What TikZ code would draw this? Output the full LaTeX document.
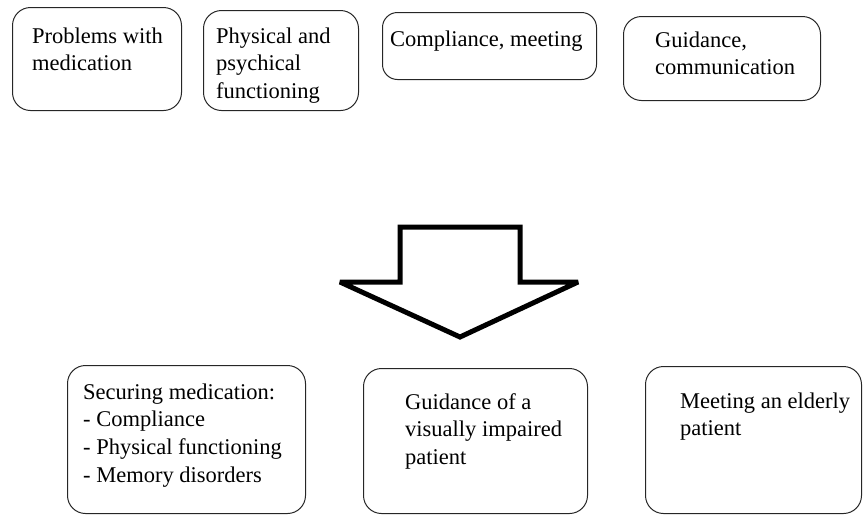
\documentclass[tikz,border=0pt]{standalone}
\usepackage{fontspec}
\setmainfont{Liberation Serif}
\newcommand{\boxlines}[1]{\begin{tabular}[t]{@{}l@{}}#1\end{tabular}}
\begin{document}
\begin{tikzpicture}[x=1pt,y=-1pt,
  pbox/.style={draw=black!85, line width=1pt, rounded corners=18pt, inner sep=0pt, anchor=north west},
  ptext/.style={anchor=base west, inner sep=0pt, font=\fontsize{22.5}{27.7}\selectfont, text=black},
  bigarrow/.style={draw=black, line width=5pt, fill=white, line join=miter, miter limit=1.5}]
\useasboundingbox (0,0) rectangle (863,515);
% top row
\node[pbox, minimum width=169pt, minimum height=103pt] (b1) at (12,7) {};
\node[pbox, minimum width=155pt, minimum height=100pt] (b2) at (203,10) {};
\node[pbox, minimum width=214pt, minimum height=67pt, rounded corners=15pt] (b3) at (382,12) {};
\node[pbox, minimum width=197pt, minimum height=84pt] (b4) at (623,16) {};
\node[ptext] (t1) at (32,43) {\boxlines{Problems with\\medication}};
\node[ptext] (t2) at (216,43) {\boxlines{Physical and\\psychical\\functioning}};
\node[ptext] (t3) at (390,46) {\boxlines{Compliance, meeting}};
\node[ptext] (t4) at (655,47) {\boxlines{Guidance,\\communication}};
% arrow
\draw[bigarrow] (400,282) -- (400,227) -- (520,227) -- (520,282) -- (578,282) -- (460,337) -- (340,282) -- cycle;
% bottom row
\node[pbox, minimum width=238pt, minimum height=148pt] (b5) at (67,365) {};
\node[pbox, minimum width=224pt, minimum height=145pt] (b6) at (363,368) {};
\node[pbox, minimum width=216pt, minimum height=147pt] (b7) at (645,366) {};
\node[ptext] (t5) at (83,399) {\boxlines{Securing medication:\\- Compliance\\- Physical functioning\\- Memory disorders}};
\node[ptext] (t6) at (405,409) {\boxlines{Guidance of a\\visually impaired\\patient}};
\node[ptext] (t7) at (680,408) {\boxlines{Meeting an elderly\\patient}};
\end{tikzpicture}
\end{document}
